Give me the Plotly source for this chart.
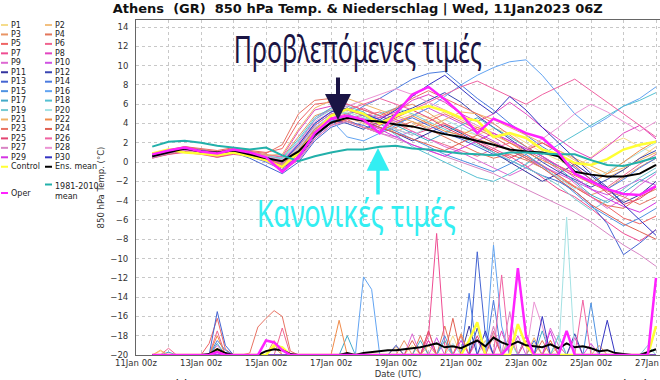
import plotly.graph_objects as go
import pandas as pd

# ---------------- data ----------------
BASE = pd.Timestamp("2023-01-11 00:00")
# temperature series, 12-hourly from 11Jan 12z to 27Jan 00z (32 values)
p01 = [0.8,1.2,1.5,1.2,0.9,1.3,1.0,0.6, 0.2,1.5,3.5,4.8, 5.2,4.6,4.0,4.4,5.0,4.6,3.9,3.2, 2.8,3.5,3.0,2.0,1.0,0.2,-0.5,0.5,1.8,2.5,1.6,0.8]
p02 = [0.5,0.9,1.3,1.0,0.6,1.0,0.7,0.3, -0.4,0.8,3.0,4.2, 4.6,4.0,3.5,3.2,3.8,4.5,5.2,4.4, 3.6,2.8,2.0,1.4,2.0,1.2,0.2,-0.8,-1.6,-0.8,0.4,1.6]
p03 = [0.7,1.1,1.4,1.3,1.0,1.2,0.9,0.8, 0.5,2.6,4.8,5.4, 5.0,4.2,4.6,5.5,6.0,5.1,4.0,3.1, 2.4,1.8,1.2,0.6,-0.3,-1.4,-2.5,-3.4,-2.8,-1.6,-0.5,0.4]
p04 = [0.4,0.8,1.1,0.9,0.5,0.9,0.6,0.2, -0.6,0.6,2.8,4.0, 4.4,3.6,3.0,3.6,4.2,3.4,2.6,1.8, 1.0,0.4,0.8,0.2,-0.6,-1.6,-2.6,-3.6,-4.5,-4.8,-3.6,-2.8]
p05 = [0.9,1.3,1.6,1.4,1.2,1.5,1.2,1.0, 1.4,4.2,6.0,6.2, 5.4,4.8,5.2,4.4,3.6,4.2,5.0,4.2, 3.4,2.6,1.6,0.6,-0.4,-1.4,-2.6,-3.6,-4.6,-5.8,-6.4,-5.6]
p06 = [0.6,1.0,1.2,1.1,0.8,1.1,0.9,0.5, -0.2,1.4,3.4,4.6, 5.0,5.6,4.8,4.0,3.2,2.4,1.8,1.2, 0.6,1.4,2.0,1.2,0.4,-0.4,-1.2,-2.0,-2.6,-1.4,-0.2,0.8]
p07 = [0.5,0.8,1.0,0.8,0.5,0.8,0.6,0.3, -0.8,0.2,2.4,3.8, 4.4,4.9,4.2,3.4,2.8,3.4,4.0,3.2, 2.2,1.4,0.6,-0.4,-1.6,-2.8,-3.6,-4.8,-6.2,-7.4,-8.2,-7.0]
p08 = [0.7,1.0,1.4,1.2,0.9,1.4,1.1,0.7, 0.6,3.2,5.4,5.8, 5.4,5.0,4.6,5.2,6.4,7.0,6.2,5.0, 4.2,5.0,6.2,5.0,3.6,2.4,1.2,0.4,1.6,3.0,3.8,2.4]
p09 = [0.4,0.9,1.2,1.0,0.7,1.0,0.8,0.4, -0.3,1.2,3.6,4.6, 4.2,3.6,3.0,2.6,3.2,2.4,1.6,1.0, 0.2,-0.6,-1.4,-0.6,0.4,-0.8,-2.2,-3.6,-4.8,-3.8,-2.4,-1.2]
p10 = [0.8,1.1,1.3,1.1,0.8,1.2,1.0,0.6, 0.0,2.0,4.4,5.6, 6.0,5.4,4.8,4.2,4.8,5.6,4.8,4.0, 3.0,2.2,1.2,0.4,-0.4,-1.2,-2.0,-2.8,-3.4,-2.6,-1.8,-2.4]
p11 = [0.6,1.0,1.3,1.0,0.8,1.1,0.8,0.3, -0.6,0.4,2.6,4.0, 4.6,4.2,3.6,3.0,2.2,3.0,3.8,3.0, 2.0,1.0,0.0,-1.0,-2.0,-1.2,-0.2,-1.4,-2.8,-4.2,-3.4,-2.0]
p12 = [0.5,0.9,1.2,1.1,0.7,1.0,0.6,0.2, -0.4,1.0,3.2,4.4, 4.0,3.4,4.2,5.0,5.6,6.4,7.2,6.2, 4.8,3.6,2.4,1.2,0.0,-1.0,-1.8,-2.6,-1.8,-0.8,0.4,1.2]
p13 = [0.7,1.1,1.4,1.2,0.9,1.0,0.4,-0.4, -1.2,0.0,2.2,3.6, 4.2,3.8,3.2,4.0,4.6,3.8,3.0,2.4, 1.6,0.8,0.2,-0.6,-1.4,-2.0,-3.0,-4.4,-6.4,-9.6,-8.4,-7.0]
p14 = [0.6,1.0,1.3,1.1,0.8,1.0,0.6,0.0, -0.8,0.6,2.8,4.2, 4.8,5.8,6.6,7.6,8.6,9.2,9.4,8.0, 6.6,5.4,4.0,2.8,1.6,0.6,-0.6,-1.8,-2.8,-1.8,-0.6,0.4]
p15 = [0.8,1.2,1.5,1.3,1.0,1.2,0.9,0.5, 0.0,1.8,4.0,5.2, 5.6,4.8,4.0,3.2,2.4,1.6,0.8,0.2, -0.4,-1.0,-0.2,0.8,-0.4,-1.8,-3.2,-4.6,-5.6,-6.6,-5.8,-4.8]
p16 = [0.5,0.9,1.2,1.0,0.7,1.0,0.7,0.4, -0.2,1.2,3.4,4.4, 2.6,2.2,3.0,3.8,4.8,5.6,6.8,8.0, 9.0,9.8,10.4,10.6,9.0,7.0,5.0,3.6,4.6,5.8,6.6,7.8]
p17 = [0.7,1.1,1.3,1.2,0.9,1.1,0.8,0.5, 0.1,1.6,3.8,5.0, 5.4,5.0,4.4,3.8,3.0,2.2,3.0,3.8, 4.6,3.6,2.6,1.6,0.6,-0.6,-2.0,-3.4,-4.2,-3.2,-2.0,-1.0]
p18 = [0.6,1.0,1.4,1.1,0.9,1.2,0.9,0.6, 0.4,2.4,4.6,5.6, 5.8,5.2,4.0,2.8,1.6,0.8,0.0,-0.8, -1.6,-2.0,-1.2,-0.2,0.8,1.8,2.8,3.8,4.8,5.8,6.4,7.2]
p19 = [0.8,1.2,1.5,1.3,1.0,1.3,1.0,0.7, 0.3,2.2,4.4,5.4, 5.0,4.4,5.0,5.6,5.0,4.2,3.4,2.6, 1.8,1.0,0.2,-0.6,-1.4,-2.4,-3.8,-5.0,-4.0,-2.8,-1.6,-0.6]
p20 = [0.5,0.9,1.2,1.0,0.8,1.1,0.8,0.5, 0.0,1.4,3.6,4.8, 5.2,4.6,4.0,3.4,2.8,3.6,4.4,3.6, 2.8,2.0,1.2,0.4,-0.6,-1.6,-2.8,-2.0,-1.0,0.0,1.0,2.0]
p21 = [0.7,1.1,1.5,1.2,0.9,1.2,1.0,0.7, 0.8,3.4,5.6,6.4, 6.6,6.0,5.4,4.8,4.2,3.6,4.4,5.2, 5.0,4.4,3.6,2.8,2.0,1.2,0.4,-0.4,-1.2,-0.6,0.2,1.0]
p22 = [0.6,1.0,1.3,1.1,0.8,1.1,0.8,0.4, -0.2,1.2,3.4,4.6, 4.2,3.6,3.2,4.0,4.8,4.0,3.2,2.8, 3.6,3.0,2.0,1.0,0.2,-0.6,-1.4,-2.2,-1.2,0.0,1.2,2.2]
p23 = [0.9,1.2,1.6,1.3,1.1,1.4,1.1,0.9, 1.8,5.0,6.4,6.6, 6.0,5.4,4.8,5.6,6.6,7.4,6.6,5.8, 5.0,4.0,2.8,1.6,0.6,-0.4,-1.2,-2.2,-3.0,-3.6,-4.4,-3.6]
p24 = [0.5,0.9,1.1,0.9,0.6,0.9,0.7,0.3, -0.5,0.8,3.0,4.4, 4.8,4.2,3.6,3.0,2.4,1.8,1.2,2.0, 2.8,2.0,1.2,0.4,-0.6,-1.8,-3.0,-4.4,-5.4,-6.4,-7.2,-8.0]
p25 = [0.7,1.0,1.3,1.2,0.8,1.2,0.8,0.4, -0.4,1.0,3.2,4.4, 4.8,4.4,3.8,4.6,5.4,4.6,3.6,2.8, 2.0,1.2,0.4,1.2,2.0,1.0,-0.4,-1.8,-3.2,-4.4,-3.8,-2.6]
p26 = [0.6,1.0,1.3,1.1,0.7,1.1,0.8,0.4, -0.1,1.6,3.8,5.0, 5.4,6.0,6.6,6.0,5.4,6.2,7.0,7.8, 8.4,7.6,6.8,6.0,7.0,7.8,8.6,7.4,6.2,5.0,3.8,2.6]
p27 = [0.5,0.9,1.2,1.0,0.6,1.0,0.6,0.1, -0.9,0.2,2.4,3.8, 4.2,3.6,3.0,2.4,1.8,1.2,0.6,0.0, -0.6,-1.2,-2.0,-2.8,-3.6,-4.4,-5.2,-6.2,-7.4,-8.6,-9.6,-10.8]
p28 = [0.8,1.1,1.4,1.2,0.9,1.2,1.0,0.6, 0.2,2.0,4.2,5.2, 5.8,6.4,7.0,7.6,7.0,6.2,5.4,4.6, 3.8,3.0,2.2,1.4,2.4,3.6,5.0,6.0,5.2,4.2,3.2,4.2]
p29 = [0.6,1.0,1.3,1.0,0.8,1.1,0.7,0.2, -0.6,0.6,3.0,4.4, 4.8,4.2,3.4,2.6,1.8,1.2,0.6,1.4, 2.2,3.0,2.2,1.4,0.6,-0.4,-1.6,-2.8,-3.8,-4.6,-5.2,-4.2]
p30 = [0.7,1.1,1.4,1.2,0.9,1.2,0.9,0.5, 0.0,1.8,4.0,5.2, 5.6,5.0,4.4,5.4,6.8,8.0,9.0,7.6, 6.2,5.0,6.8,5.4,3.6,2.0,0.4,-1.2,-2.6,-4.4,-6.0,-7.6]
control = [0.9,1.3,1.0,0.9,0.7,1.0,0.6,0.2, -0.5,1.0,3.0,4.8, 5.5,5.0,4.0,4.8,5.4,5.8,5.3,4.6, 4.3,2.6,3.0,2.5,1.3,0.8,-0.1,-0.3,0.3,1.3,1.8,2.1]
ens_mean = [0.6,1.0,1.4,1.1,1.0,1.2,0.8,0.4, 0.1,1.1,2.8,4.1, 4.6,4.3,4.2,3.9,3.7,3.3,2.9,2.6, 2.2,1.8,1.3,1.1,1.0,0.6,-1.0,-1.3,-1.5,-1.5,-1.2,-0.3]
clim_mean = [1.6,2.1,2.2,2.0,1.7,1.5,1.3,1.5, 0.7,0.1,0.6,1.0, 1.3,1.3,1.6,1.7,1.4,1.3,1.1,0.9, 0.8,0.7,1.0,1.0,0.9,0.8,0.8,0.2,-0.3,-0.4,0.0,0.5]
oper = [0.8,1.2,1.5,1.1,0.9,1.3,1.0,0.5, -1.0,0.5,3.0,4.5, 4.8,4.4,3.0,5.0,7.0,7.8,6.5,5.0, 3.0,4.5,3.8,3.0,2.5,1.0,-1.2,-2.0,-2.8,-3.3,-3.4,-2.5]

# precipitation (mm), 6-hourly steps from 11Jan 12z (index 0) to 27Jan 00z (index 62),
# given as {step index: amount}; other steps are 0
pr01 = {1: 0.4, 32: 1.0, 37: 2.0, 47: 1.2}
pr02 = {30: 0.8, 41: 1.5, 50: 1.0}
pr03 = {15: 1.5, 31: 1.5, 34: 2.5, 44: 2.0, 55: 1.0}
pr04 = {33: 2.0, 36: 3.0, 48: 1.5}
pr05 = {7: 1.2, 8: 3.8, 9: 0.6, 36: 1.5, 38: 2.0}
pr06 = {2: 0.7, 8: 2.5, 16: 2.8, 34: 1.5, 42: 2.5}
pr07 = {34: 2.0, 35: 12.6, 36: 1.0, 49: 1.5}
pr08 = {34: 1.5, 43: 2.5, 52: 1.8}
pr09 = {8: 1.0, 32: 2.2, 40: 1.5, 49: 2.8, 50: 1.0}
pr10 = {35: 1.8, 45: 2.0, 54: 1.2}
pr11 = {39: 3.0, 46: 2.0}
pr12 = {30: 1.0, 40: 2.8, 52: 2.2}
pr13 = {8: 4.5, 9: 1.0, 40: 10.7, 41: 2.0, 47: 1.5}
pr14 = {8: 1.5, 9: 0.5, 39: 6.4, 42: 5.7}
pr15 = {36: 2.0, 54: 5.4}
pr16 = {26: 8.1, 27: 6.8, 42: 11.4, 43: 3.0}
pr17 = {2: 0.3, 8: 1.2, 24: 2.0, 33: 1.5, 48: 2.5}
pr18 = {36: 1.5, 50: 2.0}
pr19 = {44: 1.5, 50: 2.0, 61: 1.0}
pr20 = {37: 1.2, 51: 14.3}
pr21 = {1: 0.5, 15: 0.8, 34: 1.0, 47: 1.8}
pr22 = {8: 2.0, 23: 3.6, 38: 2.2, 49: 1.5}
pr23 = {12: 0.2, 13: 2.9, 14: 3.8, 15: 4.6, 16: 4.0, 17: 0.4}
pr24 = {32: 1.5, 37: 3.8, 42: 2.0}
pr25 = {34: 2.5, 40: 2.0, 46: 1.5}
pr26 = {43: 8.3, 53: 5.7}
pr27 = {42: 3.0, 44: 4.5, 46: 2.0}
pr28 = {47: 5.5, 48: 3.0}
pr29 = {38: 1.5, 49: 2.5}
pr30 = {41: 2.5, 48: 4.0, 56: 3.6}
pr_control = {8: 0.6, 15: 1.0, 16: 0.8, 39: 1.5, 40: 3.4, 45: 3.2, 46: 1.0, 62: 3.0}
pr_oper = {8: 0.3, 14: 1.5, 15: 1.3, 16: 0.5, 44: 1.0, 45: 9.0, 46: 2.0, 51: 2.5, 62: 8.0}
pr_mean = {7: 0.1, 8: 0.6, 9: 0.2, 14: 0.4, 15: 0.6, 16: 0.5, 17: 0.1, 24: 0.2,
           26: 0.2, 27: 0.3, 28: 0.4, 29: 0.5, 30: 0.5, 31: 0.6, 32: 0.7, 33: 0.8,
           34: 1.0, 35: 1.2, 36: 0.8, 37: 0.9, 38: 0.7, 39: 1.1, 40: 1.5, 41: 0.9,
           42: 1.8, 43: 1.3, 44: 1.0, 45: 1.4, 46: 1.0, 47: 0.9, 48: 0.8, 49: 1.1,
           50: 0.7, 51: 1.2, 52: 0.8, 53: 0.9, 54: 0.7, 55: 0.4, 56: 0.5, 57: 0.2,
           58: 0.1, 61: 0.3, 62: 0.6}

member_names = ["P%d" % i for i in range(1, 31)]
member_colors = ["#f5dc8c", "#f2c080", "#e99565", "#e2755a", "#ef6464", "#f0648f", "#ef4c92", "#e244c0",
                 "#dd68d2", "#cf52e2", "#33339e", "#3a46b2", "#4464d2", "#4c7ce0", "#4e92e2", "#62a4f2",
                 "#44aac8", "#55c0d2", "#75cad2", "#a4e2e4", "#f0b264", "#f08a48", "#e87262", "#e06052",
                 "#e34472", "#f062a2", "#d884c4", "#eb94d4", "#d434e2", "#3434c2"]
member_temps = [p01, p02, p03, p04, p05, p06, p07, p08, p09, p10, p11, p12, p13, p14, p15,
                p16, p17, p18, p19, p20, p21, p22, p23, p24, p25, p26, p27, p28, p29, p30]
member_precip = [pr01, pr02, pr03, pr04, pr05, pr06, pr07, pr08, pr09, pr10, pr11, pr12, pr13, pr14, pr15,
                 pr16, pr17, pr18, pr19, pr20, pr21, pr22, pr23, pr24, pr25, pr26, pr27, pr28, pr29, pr30]

# ---------------- figure ----------------
temp_times = pd.date_range("2023-01-11 12:00", periods=32, freq="12h")
precip_times = pd.date_range("2023-01-11 12:00", periods=63, freq="6h")

def precip_series(events):
    return [events.get(i, 0.0) for i in range(len(precip_times))]

fig = go.Figure()
for name, col, temps, pr in zip(member_names, member_colors, member_temps, member_precip):
    fig.add_trace(go.Scatter(x=temp_times, y=temps, mode="lines", name=name,
                             line=dict(color=col, width=1), showlegend=False))
    fig.add_trace(go.Scatter(x=precip_times, y=precip_series(pr), mode="lines", yaxis="y2",
                             line=dict(color=col, width=1), showlegend=False))

CONTROL_C, MEAN_C, CLIM_C, OPER_C = "#ffff33", "#000000", "#22b0aa", "#ff22ff"
fig.add_trace(go.Scatter(x=temp_times, y=control, mode="lines", line=dict(color=CONTROL_C, width=2.5), showlegend=False))
fig.add_trace(go.Scatter(x=precip_times, y=precip_series(pr_control), mode="lines", yaxis="y2",
                         line=dict(color=CONTROL_C, width=2.5), showlegend=False))
fig.add_trace(go.Scatter(x=temp_times, y=ens_mean, mode="lines", line=dict(color=MEAN_C, width=2), showlegend=False))
fig.add_trace(go.Scatter(x=precip_times, y=precip_series(pr_mean), mode="lines", yaxis="y2",
                         line=dict(color=MEAN_C, width=2), showlegend=False))
fig.add_trace(go.Scatter(x=temp_times, y=clim_mean, mode="lines", line=dict(color=CLIM_C, width=2), showlegend=False))
fig.add_trace(go.Scatter(x=temp_times, y=oper, mode="lines", line=dict(color=OPER_C, width=2.5), showlegend=False))
fig.add_trace(go.Scatter(x=precip_times, y=precip_series(pr_oper), mode="lines", yaxis="y2",
                         line=dict(color=OPER_C, width=2.5), showlegend=False))

# ---------------- layout ----------------
W, H = 660, 380
L, R, T, B = 136, 0, 20, 25
PW, PH = W - L - R, H - T - B
PX_PER_DAY = 32.5

def px(xp):
    return (xp - L) / PW

def py(yp):
    return (H - B - yp) / PH

FONT = "DejaVu Sans"
grid = dict(showgrid=True, gridcolor="#c8c8c8", griddash="3px,3px", gridwidth=1)
x_end = BASE + pd.Timedelta(hours=24 * PW / PX_PER_DAY)

fig.update_layout(
    width=W, height=H, margin=dict(l=L, r=R, t=T, b=B, autoexpand=False),
    paper_bgcolor="white", plot_bgcolor="white", showlegend=False,
    title=dict(text="<b>Athens  (GR)  850 hPa Temp. & Niederschlag | Wed, 11Jan2023 06Z</b>",
               x=0.542, xanchor="center", y=1 - 8 / H, yanchor="middle", yref="container",
               font=dict(family=FONT, size=13, color="#111")),
    xaxis=dict(range=[BASE, x_end], type="date",
               tickformat="%d%b %Hz", dtick=2 * 86400000, tick0=BASE, ticklabeloverflow="allow",
               tickfont=dict(family=FONT, size=8.5, color="#333"), ticks="",
               showline=True, linecolor="#666", linewidth=1, mirror=True, zeroline=False,
               minor=dict(dtick=86400000, tick0=BASE, showgrid=True, gridcolor="#c8c8c8", griddash="3px,3px"),
               title=dict(text="Date (UTC)", font=dict(family=FONT, size=8.5, color="#333"), standoff=3),
               **grid),
    yaxis=dict(range=[-20, 14.73], dtick=2, tick0=0,
               tickfont=dict(family=FONT, size=8.5, color="#333"), ticks="", ticklabelstandoff=5,
               showline=True, linecolor="#666", linewidth=1, zeroline=False,
               title=dict(text="850 hPa Temp. (°C)", font=dict(family=FONT, size=8.5, color="#333"), standoff=4),
               **grid),
    yaxis2=dict(overlaying="y", range=[0, 34.73], visible=False),
)

shapes = []
annotations = []

# manual legend (two columns)
row0, step = 25, 9.45
legend_rows = []
for i in range(15):
    legend_rows.append((0, row0 + step * i, member_names[2 * i], member_colors[2 * i]))
    legend_rows.append((1, row0 + step * i, member_names[2 * i + 1], member_colors[2 * i + 1]))
legend_rows.append((0, row0 + step * 15, "Control", CONTROL_C))
legend_rows.append((1, row0 + step * 15, "Ens. mean", MEAN_C))
legend_rows.append((0, 193, "Oper", OPER_C))
legend_rows.append((1, 184.5, "1981-2010<br>mean", CLIM_C))
col_x = [1, 45]
for col, yy, label, color in legend_rows:
    x0 = col_x[col]
    shapes.append(dict(type="line", xref="paper", yref="paper", x0=px(x0), x1=px(x0 + 7),
                       y0=py(yy), y1=py(yy), line=dict(color=color, width=2)))
    if "<br>" in label:
        annotations.append(dict(text=label, xref="paper", yref="paper", x=px(x0 + 7.5), y=py(yy - 5),
                                xanchor="left", yanchor="top", showarrow=False, align="left",
                                font=dict(family=FONT, size=8, color="#222")))
    else:
        annotations.append(dict(text=label, xref="paper", yref="paper", x=px(x0 + 7.5), y=py(yy),
                                xanchor="left", yanchor="middle", showarrow=False,
                                font=dict(family=FONT, size=8, color="#222")))

# footer texts
annotations.append(dict(text="GFS Ensemble, 38N, 23.5E", xref="paper", yref="paper", x=px(100), y=py(375),
                        xanchor="left", yanchor="top", showarrow=False,
                        font=dict(family=FONT, size=13, color="#222")))
annotations.append(dict(text="Wetterzentrale.de", xref="paper", yref="paper", x=px(536), y=py(375),
                        xanchor="left", yanchor="top", showarrow=False,
                        font=dict(family=FONT, size=13, color="#222")))

# Greek overlay annotations and arrows
GFONT = "Noto Sans, sans-serif"
annotations.append(dict(text="Προβλεπόμενες τιμές", xref="paper", yref="paper", x=px(358), y=py(48),
                        xanchor="center", yanchor="middle", showarrow=False,
                        font=dict(family=GFONT, size=39, color="#1a1444")))
annotations.append(dict(text="Κανονικές τιμές", xref="paper", yref="paper", x=px(356), y=py(212),
                        xanchor="center", yanchor="middle", showarrow=False,
                        font=dict(family=GFONT, size=39, color="#33eef2")))
annotations.append(dict(text="", x=px(338), y=py(120), xref="paper", yref="paper",
                        ax=0, ay=-44, showarrow=True, arrowhead=2, arrowsize=1.3, arrowwidth=4,
                        arrowcolor="#1a1444"))
annotations.append(dict(text="", x=px(378), y=py(148), xref="paper", yref="paper",
                        ax=0, ay=48, showarrow=True, arrowhead=2, arrowsize=1.3, arrowwidth=3.5,
                        arrowcolor="#33eef2"))

fig.update_layout(shapes=shapes, annotations=annotations)

# page tweaks: no body margin; condense the two large Greek captions horizontally
POST = r"""
(function(){
  var fix = function(){
    document.body.style.margin = '0';
    document.querySelectorAll('text.annotation-text').forEach(function(t){
      var s = t.textContent || '';
      var k = null;
      if (s.indexOf('\u03a0\u03c1\u03bf') === 0) k = 0.64;
      if (s.indexOf('\u039a\u03b1\u03bd') === 0) k = 0.70;
      if (k) {
        t.style.transformBox = 'fill-box';
        t.style.transformOrigin = 'center';
        t.style.transform = 'scaleX(' + k + ')';
      }
    });
  };
  fix(); setTimeout(fix, 50); setTimeout(fix, 300);
})();
"""
fig.write_html("out.html", post_script=POST, config={"displayModeBar": False})
